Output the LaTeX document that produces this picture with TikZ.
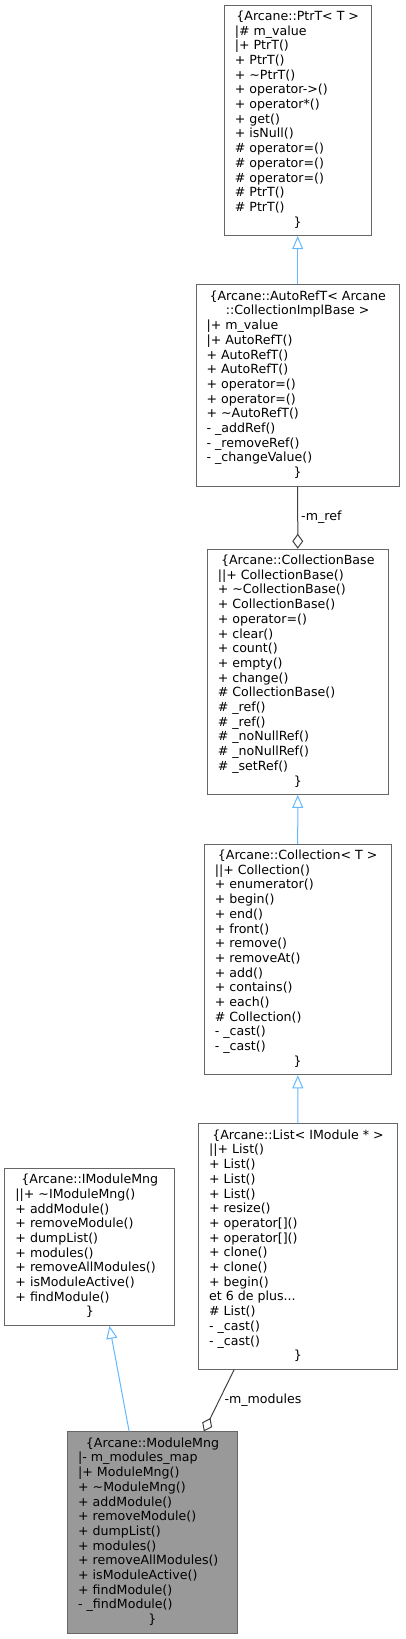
\documentclass[tikz,border=0pt]{standalone}
\usepackage{fontspec}
\setmainfont{DejaVu Sans}
\usepackage{array}
\usepackage{xcolor}
\usetikzlibrary{arrows.meta, positioning}

\definecolor{boxgray}{HTML}{666666}
\definecolor{rootfill}{HTML}{999999}
\definecolor{inhblue}{HTML}{63B8FF}
\definecolor{usegray}{HTML}{404040}

% class record: text width, title, member lines
\newcommand{\classbody}[3]{%
  \begin{tabular}{@{}p{#1}@{}}
    #2
    #3
    \multicolumn{1}{@{}c@{}}{\}}
  \end{tabular}}
\newcommand{\ctitle}[1]{\multicolumn{1}{@{}c@{}}{#1}\\}

\tikzset{
  classbox/.style={draw=boxgray, line width=1pt, fill=white, inner xsep=10.5pt, inner ysep=5pt,
    font=\fontsize{12.6}{14.7}\selectfont},
  rootbox/.style={classbox, fill=rootfill},
  inherit/.style={draw=inhblue, line width=1pt, -{Triangle[open, length=13pt, width=11pt]}},
  member/.style={draw=usegray, line width=1pt, {Diamond[open, length=15pt, width=11pt]}-},
  edgelabel/.style={font=\fontsize{12.6}{14.7}\selectfont, text=black, inner sep=3pt}
}

\begin{document}
\begin{tikzpicture}[x=1pt, y=-1pt]
        \useasboundingbox (0,0) rectangle (405,1639);

        % Base classes, top to bottom
        \node[classbox] (PtrT) at (297.7,120.3) {\classbody{125.7pt}{\ctitle{\{Arcane::PtrT< T >}}{%
            |\# m\_value\\
            |+ PtrT()\\
            + PtrT()\\
            + \textasciitilde PtrT()\\
            + operator->()\\
            + operator*()\\
            + get()\\
            + isNull()\\
            \# operator=()\\
            \# operator=()\\
            \# operator=()\\
            \# PtrT()\\
            \# PtrT()\\}};

        \node[classbox] (AutoRefT) at (297.7,385.5) {\classbody{182.3pt}{\ctitle{\{Arcane::AutoRefT< Arcane}\ctitle{::CollectionImplBase >}}{%
            |+ m\_value\\
            |+ AutoRefT()\\
            + AutoRefT()\\
            + AutoRefT()\\
            + operator=()\\
            + operator=()\\
            + \textasciitilde AutoRefT()\\
            - \_addRef()\\
            - \_removeRef()\\
            - \_changeValue()\\}};

        \node[classbox] (CollectionBase) at (297.8,671.8) {\classbody{160pt}{\ctitle{\{Arcane::CollectionBase}}{%
            ||+ CollectionBase()\\
            + \textasciitilde CollectionBase()\\
            + CollectionBase()\\
            + operator=()\\
            + clear()\\
            + count()\\
            + empty()\\
            + change()\\
            \# CollectionBase()\\
            \# \_ref()\\
            \# \_ref()\\
            \# \_noNullRef()\\
            \# \_noNullRef()\\
            \# \_setRef()\\}};

        \node[classbox] (Collection) at (297.7,959.5) {\classbody{165.7pt}{\ctitle{\{Arcane::Collection< T >}}{%
            ||+ Collection()\\
            + enumerator()\\
            + begin()\\
            + end()\\
            + front()\\
            + remove()\\
            + removeAt()\\
            + add()\\
            + contains()\\
            + each()\\
            \# Collection()\\
            - \_cast()\\
            - \_cast()\\}};

        \node[classbox] (List) at (298,1246.5) {\classbody{177.7pt}{\ctitle{\{Arcane::List< IModule * >}}{%
            ||+ List()\\
            + List()\\
            + List()\\
            + List()\\
            + resize()\\
            + operator[]()\\
            + operator[]()\\
            + clone()\\
            + clone()\\
            + begin()\\
            et 6 de plus...\\
            \# List()\\
            - \_cast()\\
            - \_cast()\\}};

        \node[classbox] (IModuleMng) at (89.8,1246.8) {\classbody{148.7pt}{\ctitle{\{Arcane::IModuleMng}}{%
            ||+ \textasciitilde IModuleMng()\\
            + addModule()\\
            + removeModule()\\
            + dumpList()\\
            + modules()\\
            + removeAllModules()\\
            + isModuleActive()\\
            + findModule()\\}};

        % The documented class
        \node[rootbox] (ModuleMng) at (152.5,1532.5) {\classbody{148.7pt}{\ctitle{\{Arcane::ModuleMng}}{%
            |- m\_modules\_map\\
            |+ ModuleMng()\\
            + \textasciitilde ModuleMng()\\
            + addModule()\\
            + removeModule()\\
            + dumpList()\\
            + modules()\\
            + removeAllModules()\\
            + isModuleActive()\\
            + findModule()\\
            - \_findModule()\\}};

        % Inheritance and member links
        \draw[inherit] (AutoRefT) -- (PtrT);
        \draw[member] (CollectionBase) -- node[edgelabel, midway, right] {-m\_ref} (AutoRefT);
        \draw[inherit] (Collection) -- (CollectionBase);
        \draw[inherit] (List) -- (Collection);
        \draw[inherit] ([xshift=62pt]ModuleMng.north west) -- ([xshift=105pt]IModuleMng.south west);
        \draw[member] ([xshift=-34pt]ModuleMng.north east) -- node[edgelabel, midway, right=2pt] {-m\_modules} ([xshift=36pt]List.south west);
\end{tikzpicture}
\end{document}
